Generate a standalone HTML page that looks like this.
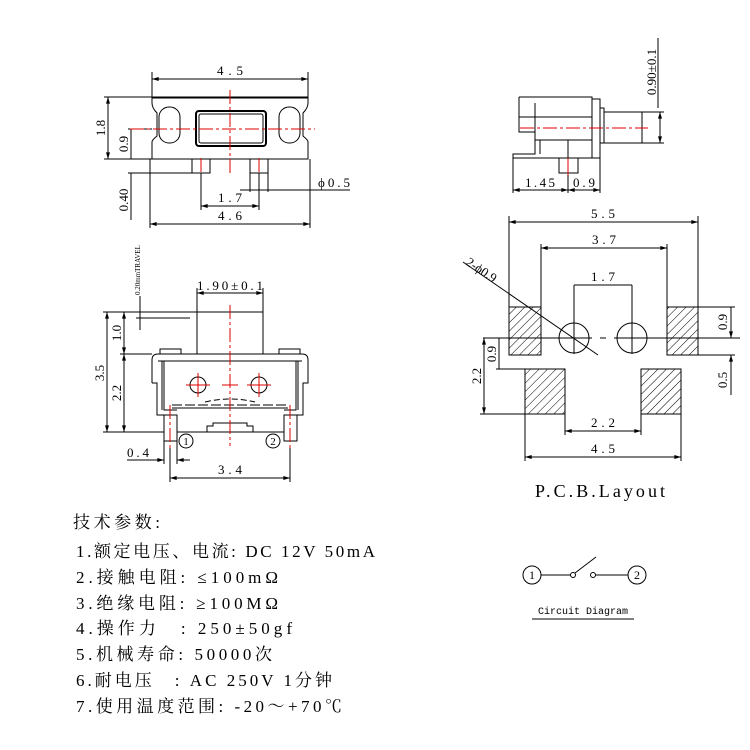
<!DOCTYPE html><html><head><meta charset="utf-8"><style>body{margin:0;background:#fff}svg{display:block}</style></head><body>
<svg width="750" height="750" viewBox="0 0 750 750" xmlns="http://www.w3.org/2000/svg" font-family="Liberation Serif, Noto Serif CJK SC, serif">
<defs>
<marker id="a" viewBox="0 0 10 6" refX="10" refY="3" markerWidth="8" markerHeight="4" orient="auto-start-reverse"><path d="M0,0L10,3L0,6z" fill="#000"/></marker>
<pattern id="h" width="6" height="6" patternUnits="userSpaceOnUse" patternTransform="rotate(45)"><line x1="0" y1="0" x2="0" y2="6" stroke="#000" stroke-width="1"/></pattern>
</defs>
<g stroke="#000" stroke-width="1" fill="none">
<line x1="152" y1="79" x2="308" y2="79" marker-start="url(#a)" marker-end="url(#a)"/>
<line x1="152" y1="72" x2="152" y2="97"/><line x1="308" y1="72" x2="308" y2="97"/>
<path d="M152,159 V142 Q152,140 157,136 V113 Q152,108 152,103 V97 H308 V103 Q308,108 303,113 V136 Q308,140 308,142 V159 Z"/>
<line x1="152" y1="97.5" x2="308" y2="97.5" stroke-width="2"/>
<rect x="159" y="107" width="21" height="36" rx="10"/><rect x="279" y="107" width="21" height="36" rx="10"/>
<rect x="196" y="111" width="70" height="35" rx="3" stroke-width="2"/><rect x="199" y="114" width="64" height="29" rx="2"/>
<rect x="192" y="159" width="18" height="14"/><rect x="250" y="159" width="18" height="14"/>
<line x1="108" y1="97" x2="108" y2="159" marker-start="url(#a)" marker-end="url(#a)"/>
<line x1="104" y1="97" x2="152" y2="97"/><line x1="104" y1="159" x2="152" y2="159"/>
<line x1="131" y1="129" x2="131" y2="159"/><line x1="128" y1="129" x2="152" y2="129"/>
<line x1="131" y1="173" x2="131" y2="220"/><line x1="128" y1="173" x2="192" y2="173"/>
<line x1="201" y1="206" x2="259" y2="206" marker-start="url(#a)" marker-end="url(#a)"/>
<line x1="201" y1="173" x2="201" y2="210"/><line x1="259" y1="173" x2="259" y2="210"/>
<line x1="250" y1="173" x2="250" y2="192"/><line x1="268" y1="173" x2="268" y2="192"/>
<line x1="240" y1="190" x2="350" y2="190"/>
<line x1="150" y1="224" x2="310" y2="224" marker-start="url(#a)" marker-end="url(#a)"/>
<line x1="150" y1="159" x2="150" y2="228"/><line x1="310" y1="159" x2="310" y2="228"/>
<line x1="197" y1="293" x2="263" y2="293" marker-start="url(#a)" marker-end="url(#a)"/>
<line x1="197" y1="288" x2="197" y2="312"/><line x1="263" y1="288" x2="263" y2="312"/>
<rect x="197" y="312" width="66" height="42"/>
<line x1="140" y1="296" x2="140" y2="330"/><line x1="136" y1="312" x2="197" y2="312"/><line x1="136" y1="318" x2="190" y2="318"/>
<line x1="107" y1="312" x2="107" y2="432" marker-start="url(#a)" marker-end="url(#a)"/>
<line x1="124" y1="312" x2="124" y2="354" marker-start="url(#a)" marker-end="url(#a)"/>
<line x1="124" y1="354" x2="124" y2="432" marker-start="url(#a)" marker-end="url(#a)"/>
<line x1="103" y1="312" x2="197" y2="312"/><line x1="120" y1="354" x2="152" y2="354"/><line x1="103" y1="432" x2="164" y2="432"/>
<rect x="160" y="349" width="21" height="5"/><rect x="279" y="349" width="21" height="5"/>
<path d="M152,383 V360 Q152,354 158,354 H302 Q308,354 308,360 V383 H303 V415 H284 V441 H297 V415"/>
<path d="M152,383 H157 V415 H177 V441 H164 V415"/>
<path d="M158,361 H302 M162,361 V410 M298,361 V410 M164,361 V410 H177 M296,361 V410 H284"/>
<path d="M177,432 H284 M207,432 V426 H213 V423 H247 V426 H253 V432"/>
<circle cx="198" cy="385" r="8"/><circle cx="259" cy="385" r="8"/>
<line x1="172" y1="405" x2="288" y2="405" stroke-dasharray="10,3"/><line x1="172" y1="408" x2="288" y2="408"/>
<path d="M205,402 Q230,396 255,402" stroke-dasharray="6,3"/>
<circle cx="186" cy="441" r="7"/><circle cx="273" cy="441" r="7"/>
<line x1="127" y1="460" x2="164" y2="460" marker-end="url(#a)"/><line x1="177" y1="460" x2="190" y2="460" marker-start="url(#a)"/>
<line x1="164" y1="441" x2="164" y2="464"/><line x1="177" y1="441" x2="177" y2="464"/>
<line x1="170" y1="478" x2="290" y2="478" marker-start="url(#a)" marker-end="url(#a)"/>
<line x1="170" y1="448" x2="170" y2="482"/><line x1="290" y1="448" x2="290" y2="482"/>
<path d="M519,97 H592 V140 H535 V132 H519 V117 H535 V103 M519,97 V117 M535,117 V132 M519,117 H592"/>
<rect x="592" y="99" width="8" height="59"/><rect x="600" y="108" width="4" height="35"/>
<rect x="604" y="112" width="38" height="31"/>
<path d="M535,140 V154 H513 V158 H600 M540,140 V154 M559,158 V173 H578 V158 M568,140 V158"/>
<line x1="642" y1="112" x2="664" y2="112"/><line x1="642" y1="143" x2="664" y2="143"/>
<line x1="660" y1="112" x2="660" y2="143" marker-start="url(#a)" marker-end="url(#a)"/>
<line x1="658" y1="38" x2="658" y2="108"/>
<line x1="513" y1="158" x2="513" y2="193"/><line x1="600" y1="158" x2="600" y2="193"/><line x1="568" y1="173" x2="568" y2="193"/>
<line x1="513" y1="190" x2="568" y2="190" marker-start="url(#a)" marker-end="url(#a)"/>
<line x1="568" y1="190" x2="600" y2="190" marker-start="url(#a)" marker-end="url(#a)"/>
<line x1="509" y1="222" x2="698" y2="222" marker-start="url(#a)" marker-end="url(#a)"/>
<line x1="509" y1="216" x2="509" y2="307"/><line x1="698" y1="216" x2="698" y2="307"/>
<line x1="541" y1="248" x2="667" y2="248" marker-start="url(#a)" marker-end="url(#a)"/>
<line x1="541" y1="244" x2="541" y2="307"/><line x1="667" y1="244" x2="667" y2="307"/>
<line x1="574" y1="285" x2="632" y2="285"/>
<line x1="574" y1="285" x2="574" y2="354"/><line x1="632" y1="285" x2="632" y2="354"/>
<rect x="509" y="307" width="32" height="48" fill="url(#h)"/><rect x="667" y="307" width="31" height="48" fill="url(#h)"/>
<rect x="525" y="369" width="40" height="45" fill="url(#h)"/><rect x="641" y="369" width="40" height="45" fill="url(#h)"/>
<circle cx="574" cy="338" r="15"/><circle cx="632" cy="338" r="15"/>
<line x1="483" y1="338" x2="592" y2="338"/><line x1="600" y1="338" x2="606" y2="338"/><line x1="614" y1="338" x2="740" y2="338"/>
<line x1="463" y1="262" x2="598" y2="355"/>
<line x1="484" y1="338" x2="484" y2="414" marker-start="url(#a)" marker-end="url(#a)"/><line x1="480" y1="414" x2="525" y2="414"/>
<line x1="499" y1="338" x2="499" y2="369"/><line x1="496" y1="369" x2="525" y2="369"/>
<line x1="565" y1="414" x2="565" y2="435"/><line x1="641" y1="414" x2="641" y2="435"/>
<line x1="565" y1="431" x2="641" y2="431" marker-start="url(#a)" marker-end="url(#a)"/>
<line x1="525" y1="414" x2="525" y2="461"/><line x1="681" y1="414" x2="681" y2="461"/>
<line x1="525" y1="457" x2="681" y2="457" marker-start="url(#a)" marker-end="url(#a)"/>
<line x1="698" y1="307" x2="735" y2="307"/><line x1="698" y1="355" x2="735" y2="355"/>
<line x1="731" y1="307" x2="731" y2="338" marker-end="url(#a)"/>
<line x1="731" y1="355" x2="731" y2="395" marker-start="url(#a)"/>
<circle cx="532" cy="575" r="9"/><line x1="541" y1="575" x2="571" y2="575"/>
<circle cx="573" cy="575" r="2.5"/><line x1="575" y1="573" x2="596" y2="557"/>
<circle cx="593" cy="575" r="2.5"/><line x1="596" y1="575" x2="628" y2="575"/>
<circle cx="637" cy="575" r="9"/>
<line x1="532" y1="619" x2="634" y2="619"/>
</g>
<g stroke="#d00" stroke-width="1" fill="none" stroke-dasharray="14,3,3,3">
<line x1="130" y1="129" x2="315" y2="129"/><line x1="230" y1="90" x2="230" y2="175"/>
<line x1="201" y1="158" x2="201" y2="175"/><line x1="259" y1="158" x2="259" y2="175"/>
<line x1="230" y1="305" x2="230" y2="446"/>
<line x1="186" y1="385" x2="210" y2="385" stroke-dasharray="none"/><line x1="198" y1="373" x2="198" y2="397" stroke-dasharray="none"/>
<line x1="247" y1="385" x2="271" y2="385" stroke-dasharray="none"/><line x1="259" y1="373" x2="259" y2="397" stroke-dasharray="none"/>
<line x1="222" y1="385" x2="238" y2="385" stroke-dasharray="none"/>
<line x1="170" y1="405" x2="170" y2="448"/><line x1="290" y1="405" x2="290" y2="448"/>
<line x1="520" y1="128" x2="648" y2="128"/><line x1="568" y1="158" x2="568" y2="175" stroke-dasharray="none"/>
</g>
<g font-size="13" fill="#000">
<text x="230" y="75" text-anchor="middle" textLength="26">4.5</text>
<text transform="translate(105,128) rotate(-90)" text-anchor="middle">1.8</text>
<text transform="translate(128,144) rotate(-90)" text-anchor="middle">0.9</text>
<text transform="translate(128,200) rotate(-90)" text-anchor="middle">0.40</text>
<text x="230" y="202" text-anchor="middle" textLength="24">1.7</text>
<text x="318" y="187" textLength="32">ϕ0.5</text>
<text x="230" y="220" text-anchor="middle" textLength="24">4.6</text>
<text x="230" y="290" text-anchor="middle" textLength="66">1.90±0.1</text>
<text transform="translate(140,295) rotate(-90)" font-size="7">0.20mmTRAVEL</text>
<text transform="translate(104,373) rotate(-90)" text-anchor="middle">3.5</text>
<text transform="translate(121,333) rotate(-90)" text-anchor="middle">1.0</text>
<text transform="translate(121,393) rotate(-90)" text-anchor="middle">2.2</text>
<text x="186" y="445" text-anchor="middle" font-size="11">1</text>
<text x="273" y="445" text-anchor="middle" font-size="11">2</text>
<text x="138" y="457" text-anchor="middle" textLength="22">0.4</text>
<text x="230" y="474" text-anchor="middle" textLength="24">3.4</text>
<text transform="translate(656,72) rotate(-90)" text-anchor="middle">0.90±0.1</text>
<text x="540" y="187" text-anchor="middle" textLength="30">1.45</text>
<text x="584" y="187" text-anchor="middle" textLength="22">0.9</text>
<text x="603" y="218" text-anchor="middle" textLength="24">5.5</text>
<text x="604" y="244" text-anchor="middle" textLength="24">3.7</text>
<text x="603" y="281" text-anchor="middle" textLength="24">1.7</text>
<text transform="translate(465,264) rotate(34)">2-ϕ0.9</text>
<text transform="translate(481,376) rotate(-90)" text-anchor="middle">2.2</text>
<text transform="translate(496,354) rotate(-90)" text-anchor="middle">0.9</text>
<text x="603" y="427" text-anchor="middle" textLength="24">2.2</text>
<text x="603" y="453" text-anchor="middle" textLength="24">4.5</text>
<text transform="translate(727,322) rotate(-90)" text-anchor="middle">0.9</text>
<text transform="translate(727,380) rotate(-90)" text-anchor="middle">0.5</text>
<text x="535" y="497" font-size="18" textLength="130">P.C.B.Layout</text>
<text x="532" y="579" text-anchor="middle" font-size="12">1</text>
<text x="637" y="579" text-anchor="middle" font-size="12">2</text>
<text x="583" y="614" text-anchor="middle" font-size="10" font-family="Liberation Mono, monospace">Circuit Diagram</text>
</g>
<g font-size="17" fill="#000" font-family="Liberation Serif, Noto Serif CJK SC, serif" lengthAdjust="spacing">
<text x="73" y="528" textLength="87">技术参数:</text>
<text x="76" y="557" textLength="299">1.额定电压、电流: DC 12V 50mA</text>
<text x="76" y="583" textLength="202">2.接触电阻: ≤100mΩ</text>
<text x="76" y="609" textLength="202">3.绝缘电阻: ≥100MΩ</text>
<text x="76" y="634" textLength="216">4.操作力　: 250±50gf</text>
<text x="76" y="660" textLength="196">5.机械寿命: 50000次</text>
<text x="76" y="686" textLength="256">6.耐电压　: AC 250V 1分钟</text>
<text x="76" y="712" textLength="266">7.使用温度范围: -20～+70℃</text>
</g>
</svg>
</body></html>
